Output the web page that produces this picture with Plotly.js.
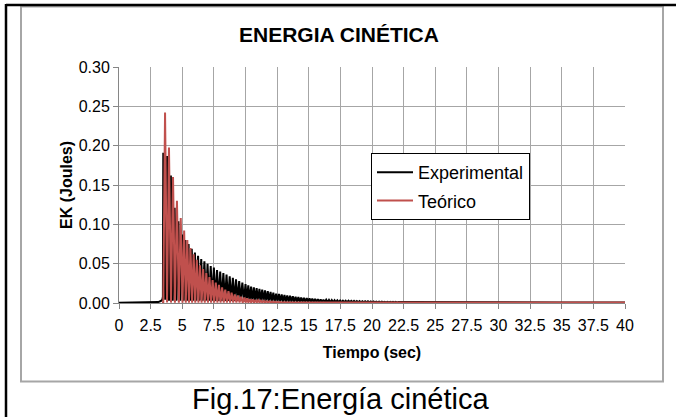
<!DOCTYPE html>
<html>
<head>
<meta charset="utf-8">
<script src="https://cdn.plot.ly/plotly-3.0.1.min.js"></script>
<style>html,body{margin:0;padding:0;background:#fff;}#chart{width:676px;height:417px;}</style>
</head>
<body>
<div id="chart"></div>
<script>
// ---- data ----
const expName = "Experimental";
const teoName = "Teórico";
const xTickVals = [0,2.5,5,7.5,10,12.5,15,17.5,20,22.5,25,27.5,30,32.5,35,37.5,40];
const yTickVals = [0,0.05,0.10,0.15,0.20,0.25,0.30];

const expT = [
 0, 2.0, 2.8, 3.1, 3.3, 3.42, 3.47, 3.5, 3.65, 3.8,
 3.95, 4.1, 4.25, 4.4, 4.55, 4.7, 4.85, 5.0, 5.12, 5.25,
 5.38, 5.5, 5.62, 5.75, 5.88, 6.0, 6.12, 6.25, 6.38, 6.5,
 6.62, 6.75, 6.88, 7.0, 7.12, 7.25, 7.38, 7.5, 7.62, 7.75,
 7.88, 8.0, 8.12, 8.25, 8.38, 8.5, 8.62, 8.75, 8.88, 9.0,
 9.12, 9.25, 9.38, 9.5, 9.62, 9.75, 9.88, 10.0, 10.11, 10.22,
 10.33, 10.44, 10.55, 10.66, 10.77, 10.88, 10.99, 11.1, 11.21, 11.32,
 11.43, 11.54, 11.65, 11.76, 11.87, 11.98, 12.09, 12.2, 12.31, 12.42,
 12.53, 12.64, 12.75, 12.86, 12.97, 13.08, 13.19, 13.3, 13.41, 13.52,
 13.63, 13.74, 13.85, 13.96, 14.07, 14.18, 14.29, 14.4, 14.51, 14.62,
 14.73, 14.84, 14.95, 15.06, 15.17, 15.28, 15.39, 15.5, 15.61, 15.72,
 15.83, 15.94, 16.05, 16.16, 16.27, 16.38, 16.49, 16.6, 16.71, 16.82,
 16.93, 17.04, 17.15, 17.26, 17.37, 17.48, 17.59, 17.7, 17.81, 17.92,
 18.03, 18.14, 18.25, 18.36, 18.47, 18.58, 18.69, 18.8, 18.91, 19.02,
 19.13, 19.24, 19.35, 19.46, 19.57, 19.68, 19.79, 19.9, 20.01, 20.12,
 20.23, 20.34, 20.45, 20.56, 20.67, 20.78, 20.89, 21.0, 21.11, 21.22,
 21.33, 21.44, 21.55, 21.66, 21.77, 21.88, 21.99, 22.1, 23, 25,
 30, 35, 40
];
const expEK = [
 0.0003, 0.0003, 0.0006, 0.0012, 0.0025, 0.004, 0.008, 0.191, 0.004, 0.187,
 0.003, 0.162, 0.003, 0.121, 0.003, 0.104, 0.003, 0.087, 0.003, 0.080,
 0.003, 0.075, 0.003, 0.069, 0.003, 0.064, 0.003, 0.060, 0.003, 0.056,
 0.003, 0.053, 0.003, 0.050, 0.003, 0.047, 0.003, 0.045, 0.0025, 0.042,
 0.0025, 0.040, 0.0025, 0.038, 0.0025, 0.036, 0.0025, 0.034, 0.0025, 0.032,
 0.0025, 0.030, 0.0025, 0.028, 0.0025, 0.026, 0.002, 0.024, 0.002, 0.0225,
 0.002, 0.021, 0.002, 0.020, 0.002, 0.019, 0.002, 0.018, 0.002, 0.017,
 0.002, 0.016, 0.002, 0.015, 0.002, 0.014, 0.0018, 0.013, 0.0018, 0.012,
 0.0018, 0.0115, 0.0018, 0.011, 0.0016, 0.0103, 0.0016, 0.0097, 0.0016, 0.0091,
 0.0016, 0.0085, 0.0015, 0.008, 0.0015, 0.0075, 0.0014, 0.007, 0.0014, 0.0066,
 0.0013, 0.0062, 0.0013, 0.0058, 0.0012, 0.0055, 0.0012, 0.0052, 0.0012, 0.0049,
 0.0011, 0.0046, 0.0011, 0.0043, 0.0011, 0.0041, 0.001, 0.0039, 0.001, 0.0037,
 0.001, 0.0035, 0.001, 0.0033, 0.001, 0.0031, 0.001, 0.003, 0.001, 0.0029,
 0.0009, 0.0028, 0.0009, 0.0027, 0.0009, 0.0026, 0.0009, 0.0025, 0.0009, 0.0024,
 0.0008, 0.0023, 0.0008, 0.0022, 0.0008, 0.0021, 0.0008, 0.002, 0.0008, 0.0019,
 0.0008, 0.0018, 0.0008, 0.0018, 0.0008, 0.0017, 0.0008, 0.0016, 0.0008, 0.0016,
 0.0008, 0.0015, 0.0008, 0.0015, 0.0008, 0.0014, 0.0008, 0.0013, 0.0012, 0.001,
 0.0008, 0.0007, 0.0006
];

const teoT = [
 3.4, 3.5, 3.64, 3.8, 3.95, 4.11, 4.27, 4.42, 4.58, 4.73,
 4.88, 5.02, 5.15, 5.28, 5.4, 5.53, 5.65, 5.78, 5.9, 6.03,
 6.15, 6.28, 6.4, 6.53, 6.65, 6.78, 6.9, 7.03, 7.15, 7.28,
 7.4, 7.53, 7.65, 7.78, 7.9, 8.03, 8.15, 8.28, 8.4, 8.53,
 8.65, 8.78, 8.9, 9.03, 9.15, 9.28, 9.4, 9.53, 9.65, 9.78,
 9.9, 10.01, 10.12, 10.23, 10.34, 10.45, 10.56, 10.67, 10.78, 10.89,
 11.0, 11.11, 11.22, 11.33, 11.44, 11.55, 11.66, 11.77, 11.88, 11.99,
 12.1, 12.21, 12.32, 12.43, 12.54, 12.65, 12.76, 12.87, 12.98, 13.5,
 15, 20, 40
];
const teoEK = [
 0.0005, 0.0005, 0.242, 0.0005, 0.1975, 0.0005, 0.160, 0.0005, 0.130, 0.0005,
 0.108, 0.0005, 0.092, 0.0005, 0.080, 0.0005, 0.070, 0.0005, 0.062, 0.0005,
 0.055, 0.0005, 0.048, 0.0005, 0.043, 0.0005, 0.038, 0.0005, 0.033, 0.0005,
 0.029, 0.0005, 0.026, 0.0005, 0.023, 0.0005, 0.020, 0.0005, 0.017, 0.0005,
 0.015, 0.0005, 0.013, 0.0005, 0.011, 0.0005, 0.0095, 0.0005, 0.008, 0.0005,
 0.007, 0.0005, 0.006, 0.0005, 0.005, 0.0005, 0.0045, 0.0005, 0.004, 0.0005,
 0.0035, 0.0005, 0.003, 0.0005, 0.0027, 0.0005, 0.0024, 0.0005, 0.0021, 0.0005,
 0.0018, 0.0005, 0.0016, 0.0005, 0.0014, 0.0005, 0.0012, 0.0005, 0.001, 0.0006,
 0.0005, 0.0005, 0.0005
];

// ---- layout helpers (pixel -> paper) ----
const W = 676, H = 417;
const L = 119, R = 51, T = 67, B = 114;
const pw = W - L - R, ph = H - T - B;
const px = v => (v - L) / pw;
const py = v => (H - B - v) / ph;
const FONT = "Liberation Sans, Arial, sans-serif";

const traces = [
  {x: expT, y: expEK, type: "scatter", mode: "lines", name: expName,
   line: {color: "#000000", width: 2}, legendgroup: "a"},
  {x: teoT, y: teoEK, type: "scatter", mode: "lines", name: teoName,
   line: {color: "#C0504D", width: 2}, legendgroup: "b"}
];

const grid = "#a6a6a6";
const layout = {
  width: W, height: H,
  margin: {l: L, r: R, t: T, b: B, pad: 0},
  paper_bgcolor: "#ffffff", plot_bgcolor: "#ffffff",
  font: {family: FONT, size: 16, color: "#000"},
  showlegend: true,
  legend: {x: px(371), y: py(153), xanchor: "left", yanchor: "top",
           bordercolor: "#000", borderwidth: 1, bgcolor: "#fff", itemwidth: 36,
           font: {family: FONT, size: 18, color: "#000"}, tracegroupgap: 2},
  xaxis: {range: [0, 40], tickvals: xTickVals, ticktext: xTickVals.map(String),
          tickangle: 0, showgrid: true, gridcolor: grid, gridwidth: 1,
          zeroline: false, showline: true, linecolor: "#868686", linewidth: 1,
          ticks: "outside", ticklen: 5, tickcolor: "#868686", ticklabelstandoff: 3,
          tickfont: {family: FONT, size: 16},
          title: {text: "<b>Tiempo (sec)</b>", font: {family: FONT, size: 16}, standoff: 13},
          fixedrange: true},
  yaxis: {range: [0, 0.30], tickvals: yTickVals, tickformat: ".2f",
          showgrid: true, gridcolor: grid, gridwidth: 1,
          zeroline: false, showline: true, linecolor: "#868686", linewidth: 1,
          ticks: "outside", ticklen: 5, tickcolor: "#868686",
          tickfont: {family: FONT, size: 16},
          title: {text: "<b>EK (Joules)</b>", font: {family: FONT, size: 16}, standoff: 2},
          fixedrange: true},
  shapes: [
    {type: "rect", xref: "paper", yref: "paper", x0: px(21), x1: px(663), y0: py(381.5), y1: py(6.5),
     line: {color: "#a6a6a6", width: 2}, layer: "below"},
    {type: "line", xref: "paper", yref: "paper", x0: px(6), x1: px(676), y0: py(5), y1: py(5),
     line: {color: "#000", width: 2.5}},
    {type: "line", xref: "paper", yref: "paper", x0: px(6), x1: px(6), y0: py(4), y1: py(417),
     line: {color: "#000", width: 2.5}}
  ],
  annotations: [
    {text: "<b>ENERGIA CINÉTICA</b>", xref: "paper", yref: "paper", x: px(339), y: py(35),
     xanchor: "center", yanchor: "middle", showarrow: false, font: {family: FONT, size: 21, color: "#000"}},
    {text: "Fig.17:Energía cinética", xref: "paper", yref: "paper", x: px(340), y: py(399),
     xanchor: "center", yanchor: "middle", showarrow: false, font: {family: FONT, size: 29, color: "#000"}}
  ]
};

Plotly.newPlot("chart", traces, layout, {displayModeBar: false, staticPlot: true});
</script>
</body>
</html>
